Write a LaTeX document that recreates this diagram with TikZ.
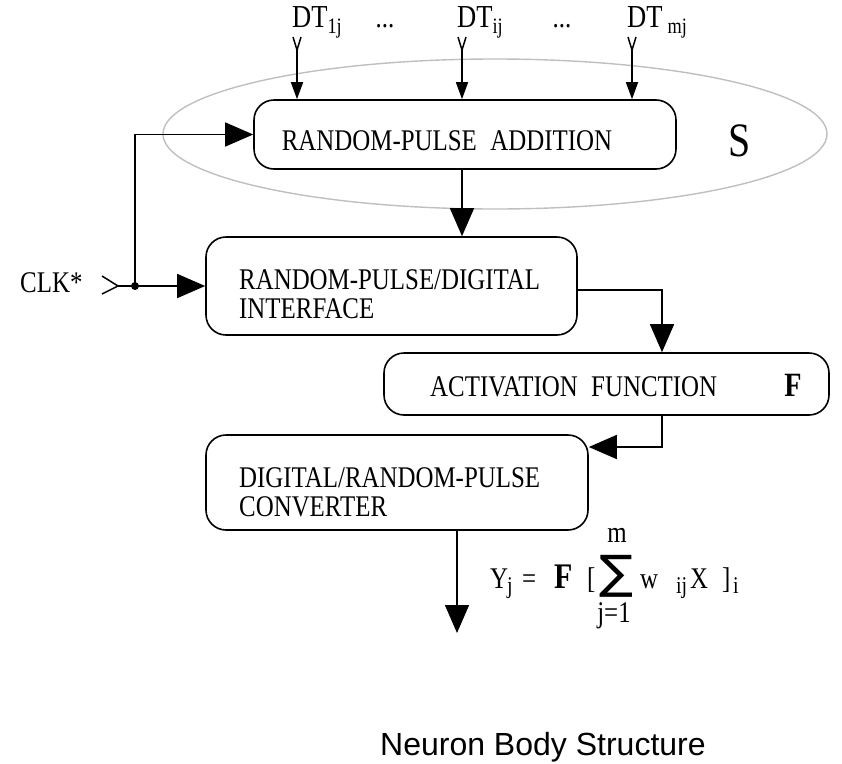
\documentclass[tikz,border=0pt]{standalone}
\usepackage{fontspec}
\usepackage{graphicx}
\setmainfont{Liberation Serif}[FakeStretch=0.83]
\newfontfamily\capfont{Liberation Sans}
\newfontfamily\dejavu{DejaVu Sans}
\usetikzlibrary{arrows.meta,shapes.geometric}
\newcommand\lowsub[1]{\raisebox{-6pt}{\fontsize{22}{22}\selectfont #1}}
\begin{document}
\begin{tikzpicture}[x=1pt,y=-1pt,
  box/.style={draw, line width=1.6pt, rounded corners=20pt, inner sep=0pt},
  grpstyle/.style={draw=black!25, line width=1.4pt, ellipse, inner sep=0pt},
  lbl/.style={inner sep=0pt, font=\fontsize{30}{36}\selectfont},
  dtlbl/.style={inner sep=0pt, font=\fontsize{32}{36}\selectfont},
  sublbl/.style={inner sep=0pt, font=\fontsize{24}{26}\selectfont},
  boldF/.style={inner sep=0pt, font=\fontsize{34}{36}\selectfont\bfseries},
  conn/.style={line width=1.5pt},
  bigarrow/.style={conn, -{Triangle[length=28pt,width=24pt]}},
  smallarrow/.style={conn, -{Triangle[length=17pt,width=12pt]}},
]
\useasboundingbox (0,0) rectangle (842,763);
% grouping ellipse
\node[grpstyle, minimum width=664pt, minimum height=150pt] (grp) at (495,134) {};
% boxes
\node[box, minimum width=422pt, minimum height=69pt] (add) at (465,134.5) {};
\node[lbl, anchor=base] (addt) at (447,150) {RANDOM-PULSE\hspace{0.45em}ADDITION};
\node[inner sep=0pt, anchor=base, font=\fontsize{48}{50}\selectfont] (S) at (740,156) {S};

\node[box, minimum width=371pt, minimum height=98pt] (b2) at (391.5,286) {};
\node[lbl, anchor=base west] (b2a) at (239,289) {RANDOM-PULSE/DIGITAL};
\node[lbl, anchor=base west] (b2b) at (239,318) {INTERFACE};

\node[box, minimum width=445pt, minimum height=62pt] (b3) at (606.5,384) {};
\node[lbl, anchor=base west] (b3t) at (430,396) {ACTIVATION\hspace{0.45em}FUNCTION};
\node[boldF, anchor=base] (F) at (793,396) {F};

\node[box, minimum width=382pt, minimum height=95pt] (b4) at (397,482.5) {};
\node[lbl, anchor=base west] (b4a) at (239,487) {DIGITAL/RANDOM-PULSE};
\node[lbl, anchor=base west] (b4b) at (239,516) {CONVERTER};

% DT inputs
\node[dtlbl, anchor=base west] (dt1) at (292,27) {DT\lowsub{1j}};
\node[lbl, anchor=base] (dots1) at (385,27) {...};
\node[dtlbl, anchor=base west] (dt2) at (457,27) {DT\lowsub{ij}};
\node[lbl, anchor=base] (dots2) at (562,27) {...};
\node[dtlbl, anchor=base west] (dt3) at (627,27) {DT\hspace{5pt}\lowsub{mj}};
\coordinate (f1) at (297,50);
\coordinate (f2) at (462,50);
\coordinate (f3) at (632,50);
\draw[conn] (f1) ++(-4,-13) -- (f1) -- ++(4,-13);
\draw[conn] (f2) ++(-4,-13) -- (f2) -- ++(4,-13);
\draw[conn] (f3) ++(-4,-13) -- (f3) -- ++(4,-13);
\draw[smallarrow] (f1) -- (f1 |- add.north);
\draw[smallarrow] (f2) -- (f2 |- add.north);
\draw[smallarrow] (f3) -- (f3 |- add.north);

% CLK
\node[lbl, anchor=base west] (clk) at (20,292) {CLK*};
\coordinate (ct) at (118,286);
\draw[conn] (ct) ++(-16,-10) -- (ct) -- ++(-16,8);
\coordinate (dot) at (135,286);
\fill (dot) circle (4pt);
\draw[bigarrow] (ct) -- (b2.west);
\draw[bigarrow] (dot) -- (dot |- add.west) -- (add.west);

% flow connectors
\coordinate (c1) at (462,200);
\draw[bigarrow] (c1 |- add.south) -- (c1 |- b2.north);
\coordinate (c2) at (662,290);
\draw[bigarrow] (b2.east |- c2) -- (c2) -- (c2 |- b3.north);
\coordinate (c3) at (662,447);
\draw[bigarrow] (c3 |- b3.south) -- (c3) -- (c3 -| b4.east);
\coordinate (c4) at (457,633);
\draw[bigarrow] (c4 |- b4.south) -- (c4);

% formula
\node[lbl, anchor=base west] (fy) at (490,588) {Y};
\node[sublbl, anchor=base west] (fyj) at (507,593) {j};
\node[lbl, anchor=base west] (feq) at (522,588) {=};
\node[inner sep=0pt, font=\fontsize{36}{38}\selectfont\bfseries, anchor=base west] (fF) at (554,588) {F};
\node[lbl, anchor=base west] (fl) at (587,588) {[};
\node[inner sep=0pt, anchor=south west] (fsum) at (599,598) {\resizebox*{34pt}{42pt}{\dejavu ∑}};
\node[lbl, anchor=base] (fm) at (617,542) {m};
\node[lbl, anchor=base] (fj1) at (614,622) {j=1};
\node[lbl, anchor=base west] (fw) at (640,588) {w};
\node[sublbl, anchor=base west] (fij) at (676,593) {ij};
\node[lbl, anchor=base west] (fx) at (690,588) {X};
\node[lbl, anchor=base west] (fr) at (722,588) {]};
\node[sublbl, anchor=base west] (fi) at (733,593) {i};

% caption
\node[inner sep=0pt, anchor=base west, font=\capfont\fontsize{32}{36}\selectfont] (cap) at (380,755) {Neuron Body Structure};
\end{tikzpicture}
\end{document}
